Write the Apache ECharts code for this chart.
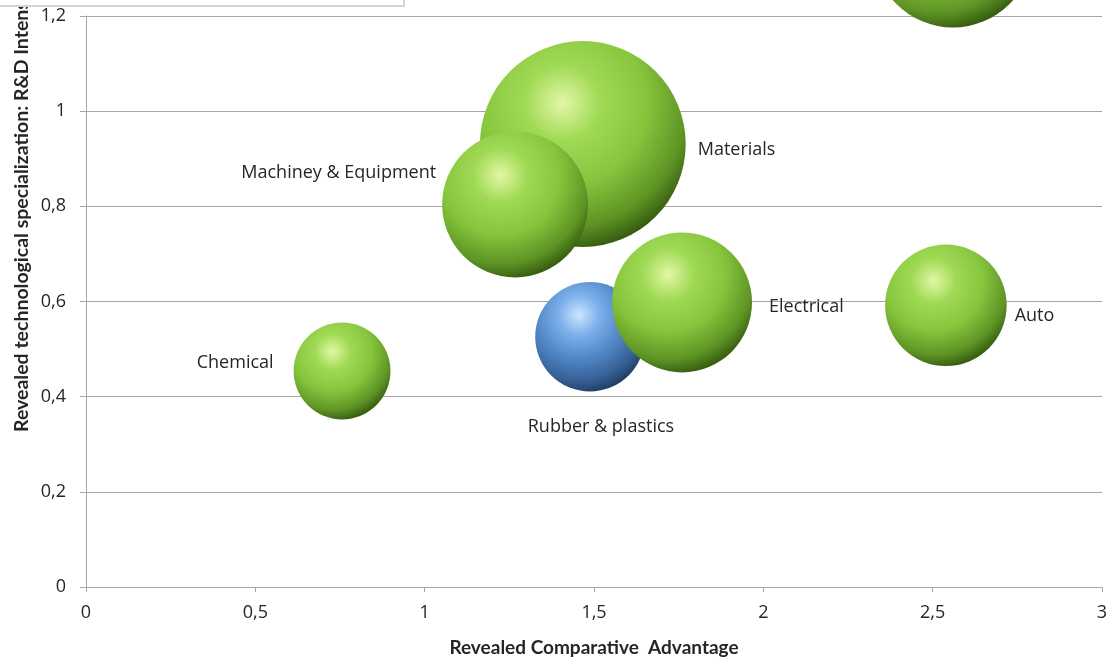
<!DOCTYPE html>
<html>
<head>
<meta charset="utf-8">
<script src="https://cdn.jsdelivr.net/npm/echarts@6/dist/echarts.min.js"></script>
<style>
html,body{margin:0;padding:0;background:#fff;}
#chart{width:1112px;height:662px;}
</style>
</head>
<body>
<div id="chart"></div>
<script>
// ---- Data ----
const greenNames = ['Materials', 'Machiney & Equipment', 'Chemical', 'Electrical', 'Auto', ''];
const greenRCA   = [1.467, 1.267, 0.756, 1.760, 2.539, 2.560];
const greenRTS   = [0.931, 0.804, 0.454, 0.598, 0.592, 1.344];
const greenSize  = [10.6, 5.33, 2.35, 4.9, 3.7, 6.4];

const blueNames = ['Rubber & plastics'];
const blueRCA   = [1.488];
const blueRTS   = [0.526];
const blueSize  = [3.0];

const xTicks = [0, 0.5, 1, 1.5, 2, 2.5, 3];
const yTicks = [0, 0.2, 0.4, 0.6, 0.8, 1, 1.2];

// ---- Styles ----
const labelFont = 'Open Sans';
const labelStyle = {
  'Materials':            {position: 'right',  distance: 12, offset: [0, 6]},
  'Machiney & Equipment': {position: 'left',   distance: 6,  offset: [0, -32]},
  'Chemical':             {position: 'left',   distance: 20, offset: [0, -8]},
  'Electrical':           {position: 'right',  distance: 17, offset: [0, 4]},
  'Auto':                 {position: 'right',  distance: 8,  offset: [0, 11]},
  'Rubber & plastics':    {position: 'bottom', distance: 26, offset: [11, 0]}
};

function sphere(c) {
  return {
    type: 'radial', x: 0.4, y: 0.3, r: 0.74,
    colorStops: c.map((col, i) => ({offset: [0, 0.25, 0.55, 0.82, 1][i], color: col}))
  };
}
const greenFill = sphere(['#e3f7a6', '#a0da55', '#87c53d', '#5e9424', '#2f520c']);
const blueFill  = sphere(['#cce6fc', '#7db0ec', '#5086c6', '#365f95', '#1d385c']);

function sizeToDiameter(s) { return 63.2 * Math.sqrt(s); }

function buildData(names, xs, ys, sizes) {
  return names.map((n, i) => {
    const ls = labelStyle[n];
    return {
      name: n,
      value: [xs[i], ys[i], sizes[i]],
      label: ls ? {show: true, position: ls.position, distance: ls.distance, offset: ls.offset,
                   formatter: n, fontFamily: labelFont, fontSize: 18, color: '#262626'} : {show: false}
    };
  });
}

const fmt = v => String(+v.toFixed(2)).replace('.', ',');

const chart = echarts.init(document.getElementById('chart'), null, {renderer: 'canvas'});
chart.setOption({
  backgroundColor: '#fff',
  animation: false,
  grid: {left: 86, right: 10, top: 16, bottom: 70, containLabel: false},
  xAxis: {
    type: 'value', min: xTicks[0], max: xTicks[xTicks.length - 1], interval: 0.5,
    name: 'Revealed Comparative  Advantage', nameLocation: 'middle', nameGap: 51,
    nameTextStyle: {fontFamily: 'Lato', fontWeight: 'bold', fontSize: 19, color: '#262626'},
    axisLine: {show: true, lineStyle: {color: '#a6a6a6', width: 1}},
    axisTick: {show: true, inside: false, length: 5, lineStyle: {color: '#a6a6a6'}},
    axisLabel: {formatter: fmt, fontFamily: 'Open Sans', fontSize: 18, color: '#262626', margin: 17},
    splitLine: {show: false}
  },
  yAxis: {
    type: 'value', min: yTicks[0], max: yTicks[yTicks.length - 1], interval: 0.2,
    axisLine: {show: true, lineStyle: {color: '#a6a6a6', width: 1}},
    axisTick: {show: true, inside: false, length: 6, lineStyle: {color: '#a6a6a6'}},
    axisLabel: {formatter: fmt, fontFamily: 'Open Sans', fontSize: 18, color: '#262626', margin: 20},
    splitLine: {show: true, lineStyle: {color: '#a6a6a6', width: 1}}
  },
  graphic: [
    {type: 'rect', shape: {x: -2, y: -40, width: 406, height: 46},
     style: {fill: '#fff', stroke: '#d6d6d6', lineWidth: 2}, z: 100},
    {type: 'text', x: 22, y: 432, rotation: Math.PI / 2,
     style: {text: 'Revealed technological specialization: R&D Intensity', fontFamily: 'Lato',
             fontWeight: 'bold', fontSize: 19.5, fill: '#262626', textAlign: 'left', textVerticalAlign: 'middle'}, z: 50}
  ],
  series: [
    {
      type: 'scatter', name: 'Rubber & plastics', clip: false,
      symbolSize: v => sizeToDiameter(v[2]),
      itemStyle: {color: blueFill, opacity: 1},
      data: buildData(blueNames, blueRCA, blueRTS, blueSize), z: 2
    },
    {
      type: 'scatter', name: 'Sectors', clip: false,
      symbolSize: v => sizeToDiameter(v[2]),
      itemStyle: {color: greenFill, opacity: 1},
      data: buildData(greenNames, greenRCA, greenRTS, greenSize), z: 3
    }
  ]
});
</script>
</body>
</html>
